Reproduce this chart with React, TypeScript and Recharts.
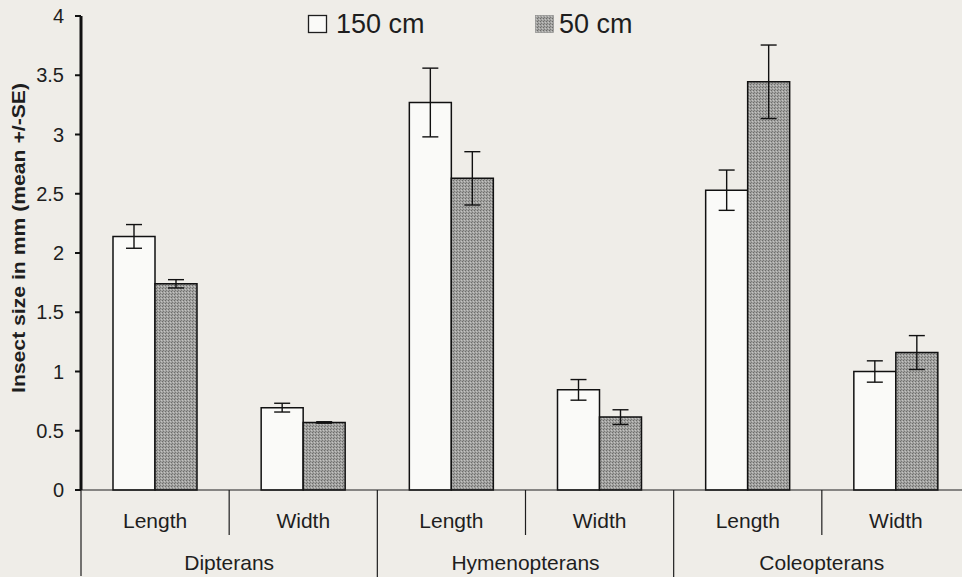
import { BarChart, Bar, XAxis, YAxis, ErrorBar, Legend } from "recharts";

const GROUPS = ["Dipterans", "Hymenopterans", "Coleopterans"];
const MEASURES = ["Length", "Width", "Length", "Width", "Length", "Width"];
const MEAN_150 = [2.14, 0.695, 3.27, 0.845, 2.53, 1.0];
const SE_150 = [0.1, 0.037, 0.29, 0.087, 0.17, 0.09];
const MEAN_50 = [1.74, 0.57, 2.63, 0.615, 3.445, 1.16];
const SE_50 = [0.035, 0.006, 0.225, 0.062, 0.31, 0.143];
const Y_TICKS = [0, 0.5, 1, 1.5, 2, 2.5, 3, 3.5, 4];

const data = MEASURES.map((m, i) => ({
  key: `${GROUPS[Math.floor(i / 2)]} ${m}`,
  cm150: MEAN_150[i],
  se150: SE_150[i],
  cm50: MEAN_50[i],
  se50: SE_50[i],
}));

const INK = "#1e1e1e";
const BG = "#efede8";

function CategoryTick(props: any) {
  const { x, y, payload, index } = props;
  const half = payload && payload.offset ? payload.offset : 74;
  const even = index % 2 === 0;
  return (
    <g>
      {index === 0 && (
        <line x1={x - half} x2={x - half} y1={y} y2={y + 86} stroke={INK} strokeWidth={1.2} />
      )}
      <text x={x} y={y + 38} textAnchor="middle" fontSize={21} fill={INK}>
        {MEASURES[index]}
      </text>
      <line
        x1={x + half}
        x2={x + half}
        y1={y}
        y2={even ? y + 45 : y + 87}
        stroke={INK}
        strokeWidth={1.2}
      />
      {even && (
        <text x={x + half} y={y + 80} textAnchor="middle" fontSize={21} fill={INK}>
          {GROUPS[index / 2]}
        </text>
      )}
    </g>
  );
}

function YLabel(props: any) {
  const vb = props.viewBox || { x: 0, y: 16, width: 81, height: 474 };
  const cx = vb.x + 19;
  const cy = vb.y + vb.height / 2 - 15;
  return (
    <text
      x={cx}
      y={cy}
      transform={`rotate(-90 ${cx} ${cy})`}
      textAnchor="middle"
      dominantBaseline="central"
      fontSize={18}
      fontWeight="bold"
      fill={INK}
      textLength={310}
      lengthAdjust="spacingAndGlyphs"
    >
      Insect size in mm (mean +/-SE)
    </text>
  );
}

const LEGEND_X = [308, 535];

function LegendContent(props: any) {
  const items = props.payload || [];
  return (
    <svg width={962} height={42} style={{ display: "block" }}>
      {items.map((it: any, i: number) => {
        const x0 = LEGEND_X[i] ?? 308 + i * 227;
        const white = i === 0;
        return (
          <g key={i}>
            <rect
              x={x0 + 0.5}
              y={15.5}
              width={18}
              height={17}
              fill={white ? "#fafaf8" : "url(#stipple)"}
              stroke={white ? INK : "#888"}
              strokeWidth={white ? 1.3 : 0.6}
            />
            <text x={x0 + (white ? 28 : 24)} y={33} fontSize={27} fill={INK}>
              {it.value}
            </text>
          </g>
        );
      })}
    </svg>
  );
}

export default function App() {
  return (
    <div
      style={{
        position: "fixed",
        left: 0,
        top: 0,
        width: 962,
        height: 577,
        overflow: "hidden",
        background: BG,
        fontFamily: "'Liberation Sans', Arial, sans-serif",
      }}
    >
      <BarChart
        width={970}
        height={577}
        data={data}
        margin={{ top: 16, right: 0, bottom: 0, left: 0 }}
        barGap={0}
        barSize={42}
      >
        <defs>
          <pattern id="stipple" width={3} height={3} patternUnits="userSpaceOnUse">
            <rect width={3} height={3} fill="#a2a2a0" />
            <rect x={0} y={0} width={1} height={1} fill="#6c6c6a" />
            <rect x={2} y={1} width={1} height={1} fill="#c4c4c2" />
            <rect x={1} y={2} width={1} height={1} fill="#7a7a78" />
          </pattern>
        </defs>
        <XAxis
          dataKey="key"
          height={87}
          interval={0}
          tickLine={false}
          tickSize={0}
          tickMargin={0}
          axisLine={{ stroke: INK, strokeWidth: 1.2 }}
          tick={<CategoryTick />}
        />
        <YAxis
          width={81}
          domain={[0, 4]}
          ticks={Y_TICKS}
          interval={0}
          tickSize={6}
          tickMargin={11}
          axisLine={{ stroke: "#111", strokeWidth: 3 }}
          tickLine={{ stroke: "#111", strokeWidth: 2 }}
          tick={{ fontSize: 20, fill: INK }}
          label={<YLabel />}
        />
        <Legend
          layout="horizontal"
          verticalAlign="middle"
          align="center"
          wrapperStyle={{ position: "absolute", top: 0, left: 0, width: 962, height: 42 }}
          content={<LegendContent />}
        />
        <Bar
          dataKey="cm150"
          name="150 cm"
          fill="#fafaf8"
          stroke="#111"
          strokeWidth={1.5}
          isAnimationActive={false}
        >
          <ErrorBar dataKey="se150" width={8} stroke="#111" strokeWidth={1.4} direction="y" />
        </Bar>
        <Bar
          dataKey="cm50"
          name="50 cm"
          fill="url(#stipple)"
          stroke="#111"
          strokeWidth={1.5}
          isAnimationActive={false}
        >
          <ErrorBar dataKey="se50" width={8} stroke="#111" strokeWidth={1.4} direction="y" />
        </Bar>
      </BarChart>
    </div>
  );
}
